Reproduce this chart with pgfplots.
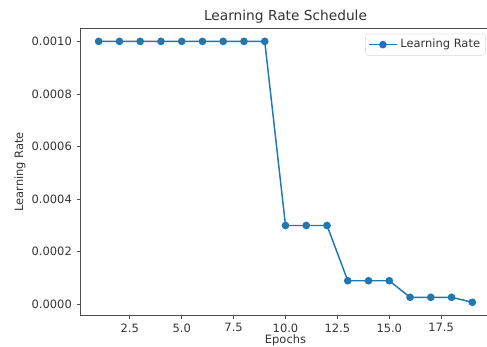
\documentclass[border=0pt]{standalone}
\usepackage{pgfplots}
\pgfplotsset{compat=1.18}
\usepackage{fontspec}
\setmainfont{DejaVu Sans}
\definecolor{mplblue}{HTML}{1F77B4}
\definecolor{txt}{HTML}{333333}
\begin{document}
\begin{tikzpicture}[x=1pt,y=1pt]
\useasboundingbox (-60,-23.25) rectangle (305.25,236.5);
\clip (-60,-23.25) rectangle (305.25,236.5);
\begin{axis}[
  at={(0,0)}, anchor=south west,
  scale only axis, width=308.25pt, height=215.25pt,
  xmin=0.1, xmax=19.9, ymin=-0.0000415, ymax=0.0010496,
  xtick={2.5,5,7.5,10,12.5,15,17.5},
  ytick={0,0.0002,0.0004,0.0006,0.0008,0.001},
  scaled y ticks=false, scaled x ticks=false,
  /pgf/number format/assume math mode=true,
  xticklabel style={/pgf/number format/.cd, fixed, fixed zerofill, precision=1},
  yticklabel style={/pgf/number format/.cd, fixed, fixed zerofill, precision=4},
  tick pos=left, tick align=outside, major tick length=2.6pt,
  tick style={black!70, line width=0.6pt},
  axis line style={black!70, line width=0.6pt},
  every tick label/.append style={font=\fontsize{8.6}{10}\selectfont, text=txt},
  every axis title shift=0pt,
  title={Learning Rate Schedule},
  title style={at={(axis description cs:0.5,1)}, yshift=9pt, anchor=center, font=\fontsize{10.3}{12}\selectfont, text=txt},
  xlabel={Epochs}, ylabel={Learning Rate},
  every axis x label/.style={at={(axis description cs:0.5,0)}, yshift=-19pt, anchor=center, font=\fontsize{8.6}{10}\selectfont, text=txt},
  every axis y label/.style={at={(axis description cs:0,0.5)}, xshift=-45pt, rotate=90, anchor=center, font=\fontsize{8.6}{10}\selectfont, text=txt},
  legend style={at={(axis description cs:1,1)}, anchor=north east, xshift=-4pt, yshift=-4pt, draw=black!15, rounded corners=2pt, font=\fontsize{8.6}{10}\selectfont, text=txt, inner sep=2pt},
  legend cell align=left,
  legend image code/.code={\draw[mark repeat=2, mark phase=2] plot coordinates {(0pt,0pt) (10.5pt,0pt) (21pt,0pt)};},
]
\addplot[mplblue, line width=1.1pt, mark=*, mark size=2.3pt, mark options={fill=mplblue, draw=mplblue}] coordinates {
  (1,0.001) (2,0.001) (3,0.001) (4,0.001) (5,0.001) (6,0.001) (7,0.001) (8,0.001) (9,0.001)
  (10,0.0003) (11,0.0003) (12,0.0003)
  (13,0.00009) (14,0.00009) (15,0.00009)
  (16,0.000027) (17,0.000027) (18,0.000027)
  (19,0.0000081)
};
\addlegendentry{Learning Rate}
\end{axis}
\end{tikzpicture}
\end{document}
